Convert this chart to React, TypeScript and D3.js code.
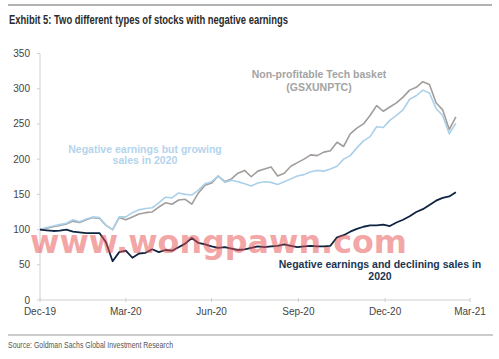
import React from "react";
import * as d3 from "d3";

const dates: string[] = [
  "2019-12-31", "2020-01-07", "2020-01-14", "2020-01-21", "2020-01-28", "2020-02-04", "2020-02-11", "2020-02-18",
  "2020-02-25", "2020-03-03", "2020-03-10", "2020-03-17", "2020-03-24", "2020-03-31", "2020-04-07", "2020-04-14",
  "2020-04-21", "2020-04-28", "2020-05-05", "2020-05-12", "2020-05-19", "2020-05-26", "2020-06-02", "2020-06-09",
  "2020-06-16", "2020-06-23", "2020-06-30", "2020-07-07", "2020-07-14", "2020-07-21", "2020-07-28", "2020-08-04",
  "2020-08-11", "2020-08-18", "2020-08-25", "2020-09-01", "2020-09-08", "2020-09-15", "2020-09-22", "2020-09-29",
  "2020-10-06", "2020-10-13", "2020-10-20", "2020-10-27", "2020-11-03", "2020-11-10", "2020-11-17", "2020-11-24",
  "2020-12-01", "2020-12-08", "2020-12-15", "2020-12-22", "2020-12-29", "2021-01-05", "2021-01-12", "2021-01-19",
  "2021-01-26", "2021-02-02", "2021-02-09", "2021-02-16", "2021-02-23", "2021-03-02", "2021-03-09", "2021-03-16",
];

const techBasket: number[] = [
  100, 102, 104, 106, 108, 112, 110, 114, 117, 116, 106, 100, 117, 114, 118, 122,
  124, 125, 132, 138, 136, 142, 143, 136, 152, 163, 166, 176, 168, 172, 180, 184,
  175, 183, 186, 189, 176, 180, 190, 195, 200, 206, 205, 210, 212, 224, 218, 236,
  244, 250, 262, 276, 268, 274, 280, 288, 298, 302, 310, 306, 280, 270, 242, 260,
];

const growingSales: number[] = [
  100, 103, 105, 107, 109, 114, 111, 115, 118, 117, 106, 100, 118, 118, 124, 128,
  130, 131, 138, 146, 145, 152, 150, 149, 156, 165, 168, 176, 167, 170, 168, 165,
  162, 166, 168, 167, 164, 168, 172, 176, 178, 182, 184, 183, 186, 190, 200, 205,
  216, 226, 232, 246, 245, 255, 262, 270, 285, 290, 298, 294, 272, 262, 236, 251,
];

const decliningSales: number[] = [
  100, 99, 98, 98.5, 100, 97, 96, 95, 95, 95, 82, 55, 68, 70, 60, 66,
  67, 72, 68, 71, 70, 75, 80, 88, 81, 79, 76, 74, 75, 73, 71, 72,
  74, 76, 75, 76, 77, 79, 77, 75, 76, 77, 76, 76, 77, 89, 92, 97,
  101, 104, 106, 106, 107, 105, 110, 114, 119, 125, 129, 135, 141, 145, 147, 153,
];

const xTicks: string[] = ["2019-12-31", "2020-03-31", "2020-06-30", "2020-09-30", "2020-12-31", "2021-03-31"];
const yTicks: number[] = [0, 50, 100, 150, 200, 250, 300, 350];

const W = 499;
const H = 359;

export default function App() {
  const parse = d3.utcParse("%Y-%m-%d");
  const x = d3
    .scaleUtc()
    .domain([parse("2019-12-31") as Date, parse("2021-03-31") as Date])
    .range([40, 470]);
  const y = d3.scaleLinear().domain([0, 350]).range([300, 53.5]);
  const fmt = d3.utcFormat("%b-%y");

  const mk = (vals: number[]) =>
    d3
      .line<number>()
      .x((_, i) => x(parse(dates[i]) as Date))
      .y((v) => y(v))(vals) || "";

  const sans = "'Liberation Sans', Arial, sans-serif";
  const narrow = "'Liberation Sans Narrow', 'Arial Narrow', 'Liberation Sans', Arial, sans-serif";

  return (
    <svg
      width={W}
      height={H}
      style={{ position: "absolute", left: 0, top: 0, background: "#fff" }}
      fontFamily={sans}
    >
      <rect x={0} y={0} width={W} height={H} fill="#fff" />
      {/* header */}
      <line x1={8} x2={492} y1={5} y2={5} stroke="#999" strokeWidth={1.5} />
      <text x={9} y={24} fontFamily={narrow} fontWeight="bold" fontSize={12.5} fill="#2b2b2b" textLength={279} lengthAdjust="spacingAndGlyphs">
        Exhibit 5: Two different types of stocks with negative earnings
      </text>

      {/* axes */}
      <line x1={40} x2={40} y1={y(350)} y2={y(0)} stroke="#d0d0d0" strokeWidth={1} />
      <line x1={40} x2={470} y1={y(0)} y2={y(0)} stroke="#d0d0d0" strokeWidth={1} />
      {yTicks.map((t) => (
        <g key={t}>
          <line x1={37} x2={40} y1={y(t)} y2={y(t)} stroke="#d0d0d0" />
          <text x={30} y={y(t) + 3.5} textAnchor="end" fontSize={10} fill="#444">
            {t}
          </text>
        </g>
      ))}
      {xTicks.map((d) => {
        const px = x(parse(d) as Date);
        return (
          <g key={d}>
            <line x1={px} x2={px} y1={y(0) - 2} y2={y(0) + 2} stroke="#d0d0d0" />
            <text x={px} y={315} textAnchor="middle" fontSize={10} fill="#444">
              {fmt(parse(d) as Date)}
            </text>
          </g>
        );
      })}

      {/* series */}
      <path d={mk(techBasket)} fill="none" stroke="#a19d9b" strokeWidth={1.6} strokeLinejoin="round" />
      <path d={mk(growingSales)} fill="none" stroke="#abd0ea" strokeWidth={1.6} strokeLinejoin="round" />
      <path d={mk(decliningSales)} fill="none" stroke="#0e2440" strokeWidth={1.8} strokeLinejoin="round" />

      {/* annotations */}
      <text x={319} y={78} textAnchor="middle" fontWeight="bold" fontSize={10.5} fill="#a3a3a3">
        Non-profitable Tech basket
      </text>
      <text x={319} y={91} textAnchor="middle" fontWeight="bold" fontSize={10.5} fill="#a3a3a3">
        (GSXUNPTC)
      </text>
      <text x={145} y={153} textAnchor="middle" fontWeight="bold" fontSize={10.5} fill="#b3d4ec">
        Negative earnings but growing
      </text>
      <text x={145} y={164} textAnchor="middle" fontWeight="bold" fontSize={10.5} fill="#b3d4ec">
        sales in 2020
      </text>

      {/* watermark */}
      <text x={30} y={253} fontSize={32} fontWeight="bold" fill="#e94f4f" opacity={0.5} fontFamily="'DejaVu Sans', sans-serif" textLength={377} lengthAdjust="spacingAndGlyphs">
        www.wongpawn.com
      </text>

      <text x={380} y={268} textAnchor="middle" fontWeight="bold" fontSize={10.5} fill="#1b3552">
        Negative earnings and declining sales in
      </text>
      <text x={380} y={280} textAnchor="middle" fontWeight="bold" fontSize={10.5} fill="#1b3552">
        2020
      </text>

      {/* footer */}
      <line x1={8} x2={493} y1={335} y2={335} stroke="#999" strokeWidth={1.2} />
      <text x={8} y={348} fontFamily={narrow} fontSize={9} fill="#555" textLength={165} lengthAdjust="spacingAndGlyphs">
        Source: Goldman Sachs Global Investment Research
      </text>
    </svg>
  );
}
